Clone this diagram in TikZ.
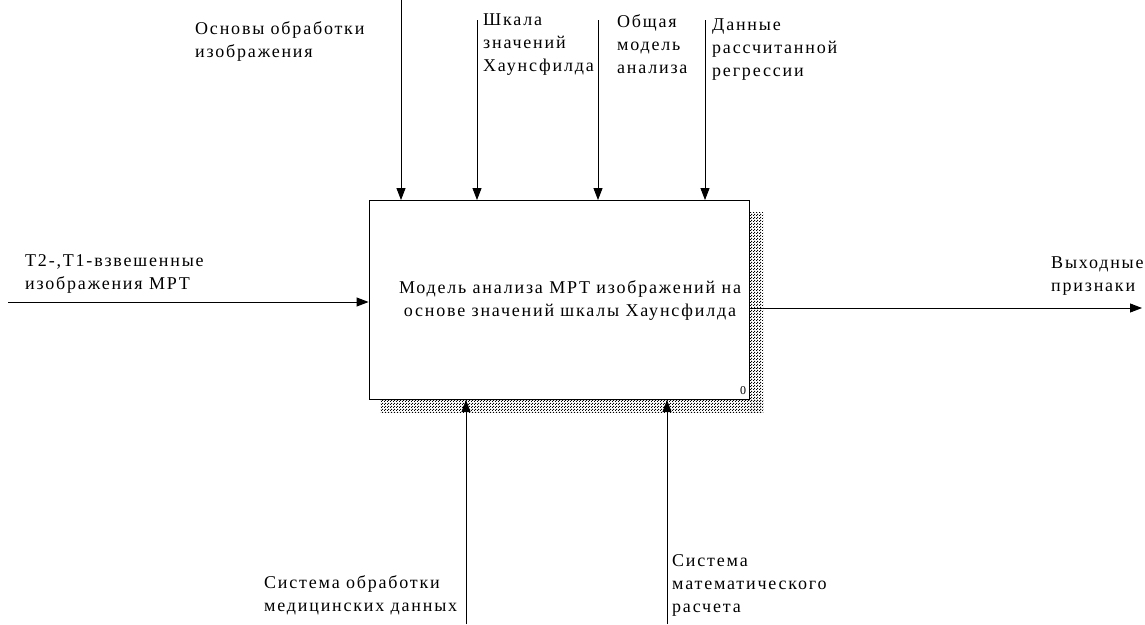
\documentclass[tikz,border=0pt]{standalone}
\usepackage{fontspec}
\setmainfont{Liberation Serif}[LetterSpace=10]
\usetikzlibrary{arrows.meta,patterns}
\pgfdeclarepatternformonly{idefdots}{\pgfqpoint{0pt}{0pt}}{\pgfqpoint{3pt}{3pt}}{\pgfqpoint{3pt}{3pt}}{%
  \pgfpathrectangle{\pgfqpoint{0pt}{0pt}}{\pgfqpoint{1.3pt}{1.3pt}}%
  \pgfpathrectangle{\pgfqpoint{1.5pt}{1.5pt}}{\pgfqpoint{1.3pt}{1.3pt}}%
  \pgfusepath{fill}}

\begin{document}
\begin{tikzpicture}[x=1pt,y=-1pt,
  lbl/.style={anchor=north west, align=left, inner sep=0pt, font=\fontsize{18}{23}\selectfont},
  arr/.style={line width=0.9pt, -{Triangle[length=12pt,width=9pt]}},
  shadow/.style={pattern=idefdots, pattern color=black}]
\useasboundingbox (0,0) rectangle (1145,624);
% shadow of the box
\fill[shadow] (749,212) rectangle (763,412);
\fill[shadow] (380,399) rectangle (763,412);
\node[draw, fill=white, line width=0.9pt, minimum width=380pt, minimum height=199pt, inner sep=0pt] (box) at (559,300) {};
\node[align=center, inner sep=0pt, font=\fontsize{18}{23}\selectfont] (title) at (570,300) {Модель анализа МРТ изображений на\\основе значений шкалы Хаунсфилда};
\node[inner sep=0pt, font=\fontsize{12}{14}\selectfont] (num) at (743,391) {0};
% controls
\coordinate (c1) at (401,0);
\coordinate (c2) at (477,20);
\coordinate (c3) at (598,20);
\coordinate (c4) at (705,20);
\draw[arr] (c1) -- (c1 |- box.north);
\draw[arr] (c2) -- (c2 |- box.north);
\draw[arr] (c3) -- (c3 |- box.north);
\draw[arr] (c4) -- (c4 |- box.north);
\node[lbl] (l1) at (195,21) {Основы обработки\\изображения};
\node[lbl] (l2) at (483,14) {Шкала\\значений\\Хаунсфилда};
\node[lbl] (l3) at (617,14) {Общая\\модель\\анализа};
\node[lbl] (l4) at (712,19) {Данные\\рассчитанной\\регрессии};
% input and output
\coordinate (in) at (8,302);
\coordinate (out) at (1142,308);
\draw[arr] (in) -- (in -| box.west);
\draw[arr] (out -| box.east) -- (out);
\node[lbl] (l5) at (25,254) {Т2-,Т1-взвешенные\\изображения МРТ};
\node[lbl] (l6) at (1051,257) {Выходные\\признаки};
% mechanisms
\coordinate (m1) at (466,624);
\coordinate (m2) at (667,624);
\draw[arr] (m1) -- (m1 |- box.south);
\draw[arr] (m2) -- (m2 |- box.south);
\node[lbl] (l7) at (264,575) {Система обработки\\медицинских данных};
\node[lbl] (l8) at (672,554) {Система\\математического\\расчета};
\end{tikzpicture}
\end{document}
